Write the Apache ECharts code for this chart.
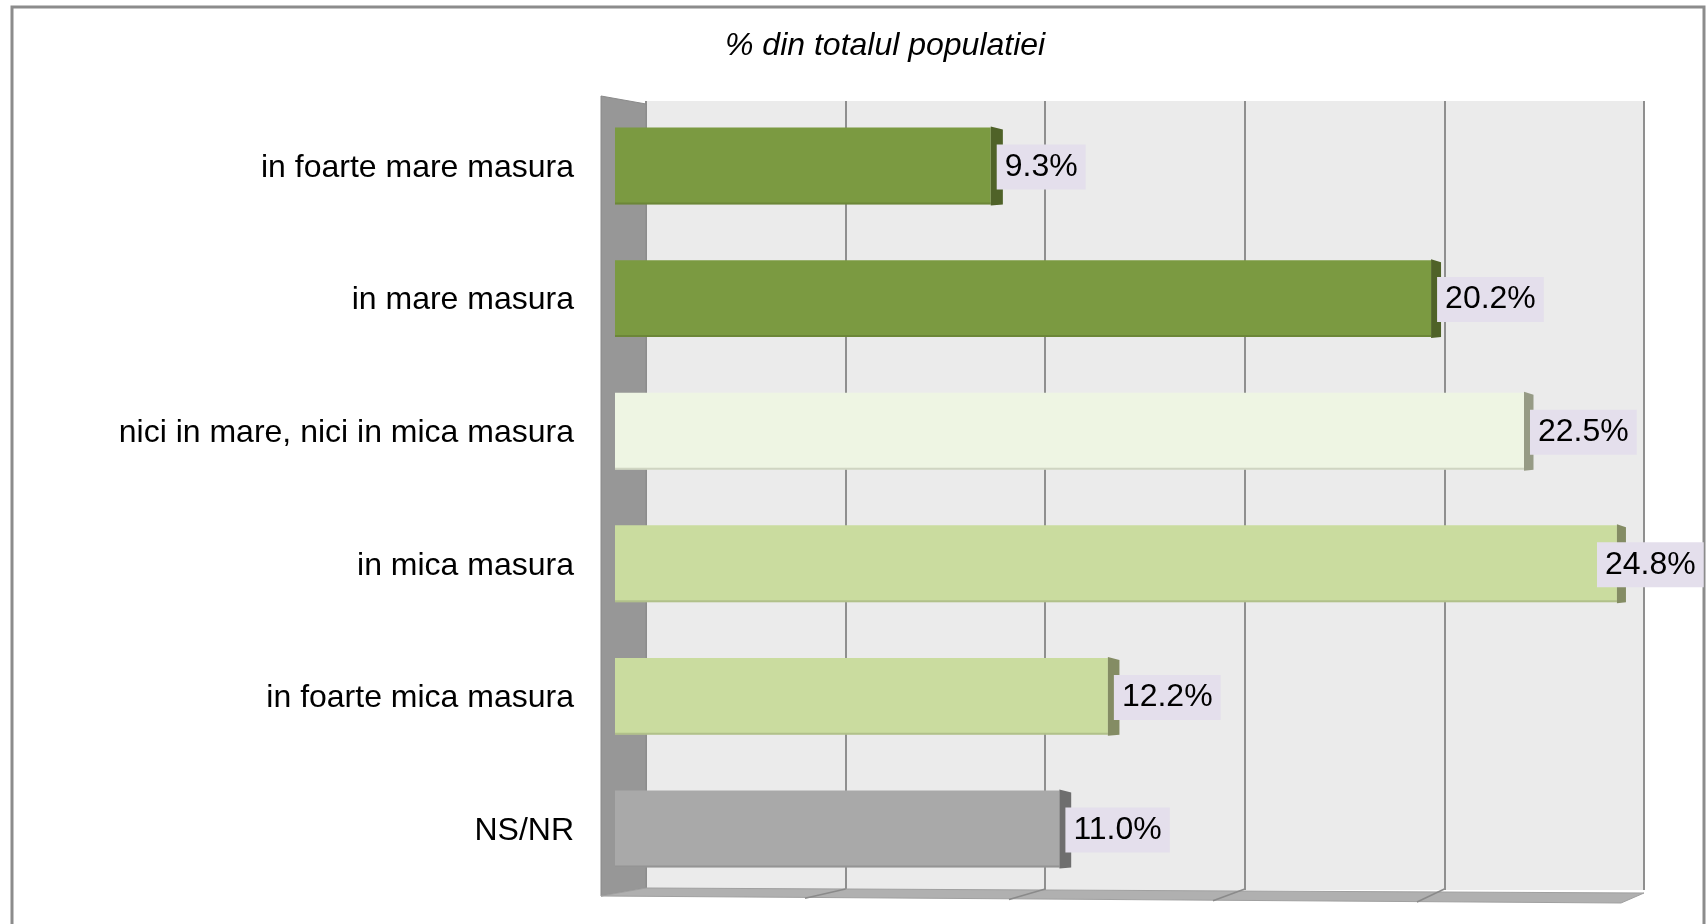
<!DOCTYPE html>
<html>
<head>
<meta charset="utf-8">
<script src="https://cdn.jsdelivr.net/npm/echarts@6/dist/echarts.min.js"></script>
<style>html,body{margin:0;padding:0;background:#fff}#c{width:1706px;height:924px}</style>
</head>
<body>
<div id="c"></div>
<script>
// ---- data ----
const categories = ['in foarte mare masura', 'in mare masura', 'nici in mare, nici in mica masura', 'in mica masura', 'in foarte mica masura', 'NS/NR'];
const values = [9.3, 20.2, 22.5, 24.8, 12.2, 11.0];
const valueLabels = ['9.3%', '20.2%', '22.5%', '24.8%', '12.2%', '11.0%'];
const axisTicks = [0, 5, 10, 15, 20, 25];
const titleText = '% din totalul populatiei';

// ---- styles ----
const frontColors = ['#7b9a41', '#7b9a41', '#eef5e3', '#cadc9f', '#cadc9f', '#a9a9a9'];
const sideColors = ['#4f6228', '#4f6228', '#969b85', '#848c64', '#848c64', '#6e6e6e'];
const FONT = '"Liberation Sans", Arial, sans-serif';

const chart = echarts.init(document.getElementById('c'), null, {renderer: 'canvas'});

const seriesData = values.map((v, i) => [v, i]);

function renderItem(params, api) {
  const v = api.value(0);
  const idx = api.value(1);
  const s = api.coord([0, idx]);
  const e = api.coord([v, idx]);
  const band = api.size([0, 1])[1];
  const h = band * 0.58;
  const cy = e[1] + 1;
  const top = cy - h / 2;
  const w = 14 - 0.2 * v;
  let lx = e[0] + 6;
  const boxW = 107;
  if (lx + boxW > 1704) lx = 1704 - boxW;
  return {
    type: 'group',
    children: [
      {type: 'rect', shape: {x: s[0], y: top, width: e[0] - s[0], height: h},
       style: {fill: frontColors[idx]}},
      {type: 'rect', shape: {x: s[0], y: top + h - 2, width: e[0] - s[0], height: 2},
       style: {fill: sideColors[idx], opacity: 0.35}},
      {type: 'polygon', shape: {points: [[e[0], top - 1], [e[0] + w, top + 2], [e[0] + w, top + h], [e[0], top + h + 1]]},
       style: {fill: sideColors[idx]}},
      {type: 'text', z2: 10,
       style: {text: valueLabels[idx], x: lx, y: cy + 1, align: 'left', verticalAlign: 'middle',
               font: '32px ' + FONT, fill: '#000', backgroundColor: '#e4dfec', padding: [8, 8, 5, 8]}}
    ]
  };
}

// decoration: side wall, floor, floor ticks, frame
const floorFront = (v) => 601 + v * (1621 - 601) / 25;
const floorBack = (v) => 646 + v * (1644 - 646) / 25;
const floorTickGraphics = axisTicks.slice(1, -1).map(t => ({
  type: 'line', z: 1,
  shape: {x1: floorBack(t), y1: 889, x2: floorFront(t), y2: 897 + t * 0.25},
  style: {stroke: '#8a8a8a', lineWidth: 1.5}
}));

const option = {
  animation: false,
  backgroundColor: '#ffffff',
  title: {
    text: titleText,
    left: 725, top: 30, padding: 0,
    textStyle: {fontFamily: FONT, fontSize: 32, fontStyle: 'italic', fontWeight: 'normal', color: '#000'}
  },
  graphic: [
    {type: 'rect', z: 0, shape: {x: 12, y: 7, width: 1692, height: 940},
     style: {fill: 'none', stroke: '#8c8c8c', lineWidth: 3}},
    {type: 'polygon', z: 1, shape: {points: [[601, 96], [646, 104], [646, 888], [601, 896]]},
     style: {fill: '#979797', stroke: '#8a8a8a', lineWidth: 1}},
    {type: 'polygon', z: 1, shape: {points: [[646, 888], [1644, 893], [1621, 903], [601, 896]]},
     style: {fill: '#b0b0b0', stroke: '#a0a0a0', lineWidth: 1}}
  ].concat(floorTickGraphics),
  grid: [
    {left: 646, top: 101, width: 998, height: 789, show: true, backgroundColor: '#ebebeb', borderWidth: 0, containLabel: false},
    {left: 615, top: 98.7, width: 1010, height: 795.6, containLabel: false}
  ],
  xAxis: [
    {gridIndex: 0, type: 'value', min: 0, max: 25, interval: 5,
     axisLine: {show: false}, axisTick: {show: false}, axisLabel: {show: false},
     splitLine: {show: true, lineStyle: {color: '#8f8f8f', width: 2}}},
    {gridIndex: 1, type: 'value', min: 0, max: 25, interval: 5,
     axisLine: {show: false}, axisTick: {show: false}, axisLabel: {show: false}, splitLine: {show: false}}
  ],
  yAxis: [
    {gridIndex: 0, type: 'value', show: false, splitLine: {show: false}},
    {gridIndex: 1, type: 'category', data: categories, inverse: true,
     axisLine: {show: false}, axisTick: {show: false}, splitLine: {show: false},
     axisLabel: {margin: 41, formatter: (v) => '{a|' + v + '}',
       rich: {a: {fontFamily: FONT, fontSize: 32, color: '#000', padding: [6, 0, 0, 0]}}}}
  ],
  series: [{
    type: 'custom',
    xAxisIndex: 1, yAxisIndex: 1,
    z: 3,
    clip: false,
    renderItem: renderItem,
    encode: {x: 0, y: 1},
    data: seriesData
  }]
};
chart.setOption(option);
</script>
</body>
</html>
